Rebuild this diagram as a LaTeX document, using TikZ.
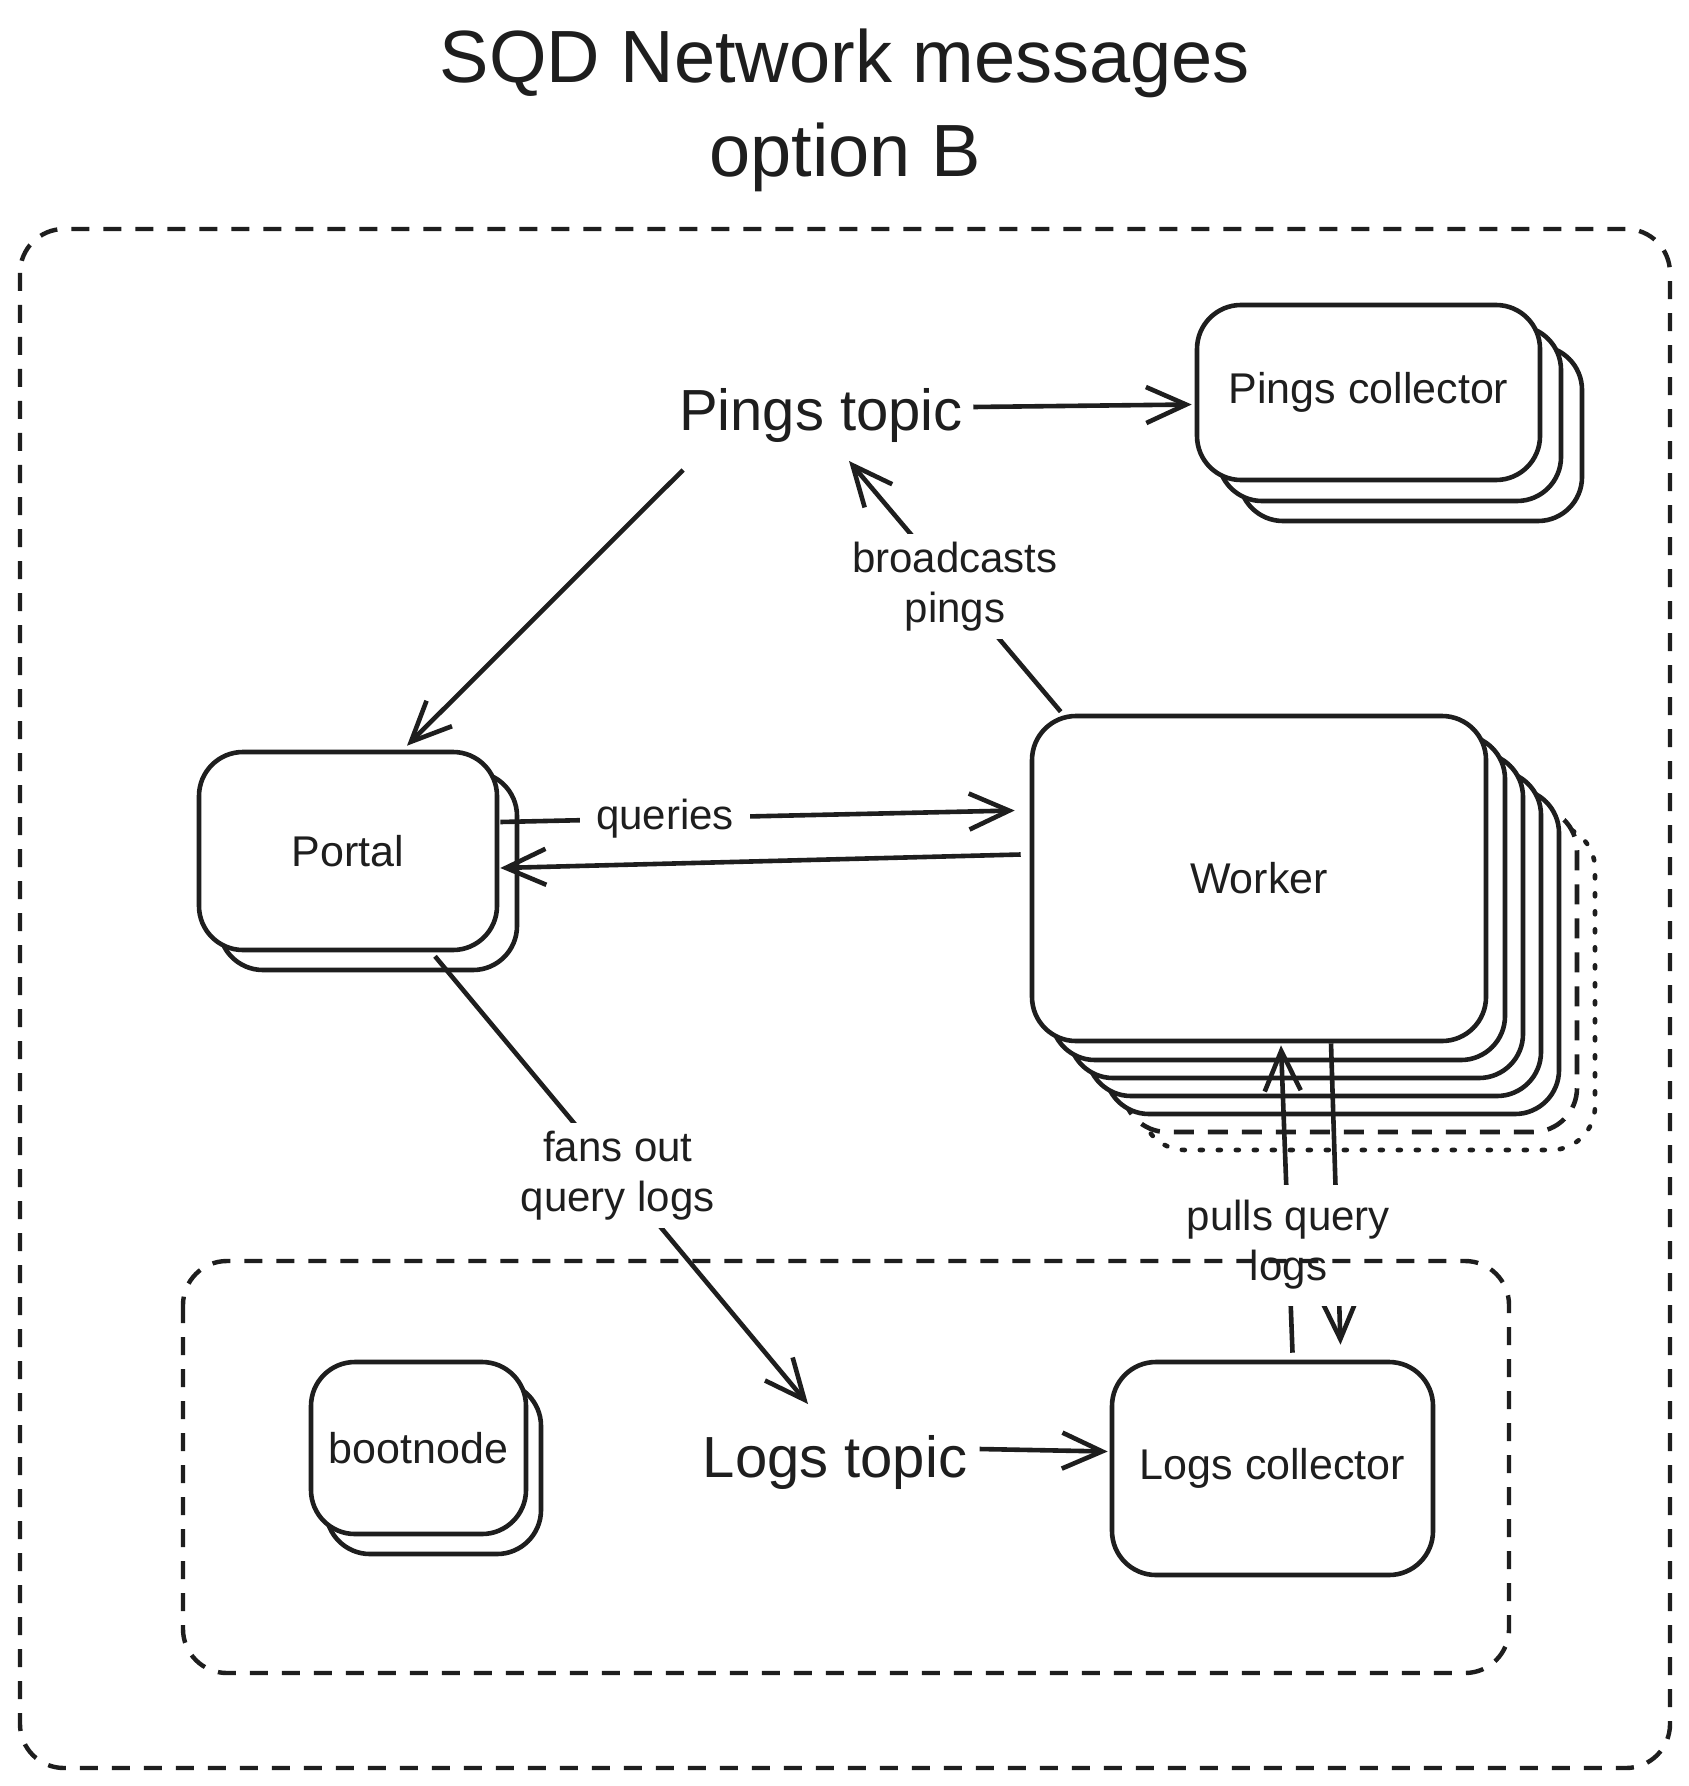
\documentclass[tikz,border=0pt]{standalone}
\usepackage{fontspec}
\setmainfont{Liberation Sans}
\usetikzlibrary{arrows.meta,calc}
\definecolor{ink}{HTML}{1E1E1E}
\begin{document}
\begin{tikzpicture}[x=0.5pt,y=-0.5pt,
  box/.style={draw=ink, fill=white, rounded corners=22pt, line width=2.3pt, inner sep=0pt, text=ink, font=\fontsize{21.5}{25}\selectfont},
  frame/.style={draw=ink, rounded corners=22pt, line width=2.2pt, dash pattern=on 9pt off 7pt},
  dashedge/.style={dash pattern=on 10pt off 7pt},
  dotedge/.style={dash pattern=on 1.5pt off 7.5pt, line cap=round},
  arr/.style={draw=ink, line width=2.3pt, -{Straight Barb[length=20pt,width=18pt]}},
  lab/.style={fill=white, text=ink, font=\fontsize{21}{25}\selectfont, align=center, inner xsep=6pt, inner ysep=4pt},
  topic/.style={text=ink, font=\fontsize{29}{34}\selectfont, inner sep=0pt, anchor=base},
  ttl/.style={text=ink, font=\fontsize{37}{44}\selectfont, inner sep=0pt, anchor=base},
]
\useasboundingbox (0,0) rectangle (1689,1786);
\fill[white] (0,0) rectangle (1689,1786);

% title
\node[ttl] (title1) at (845,83) {SQD Network messages};
\node[ttl] (title2) at (845,177) {option B};

% outer frame
\draw[frame] (20,229) rectangle (1670,1768);

% Pings collector stack
\node[box, minimum width=171.5pt, minimum height=87.5pt] (pcol3) at (1410.5,433.5) {};
\node[box, minimum width=171.5pt, minimum height=87.5pt] (pcol2) at (1389.5,413.5) {};
\node[box, minimum width=171.5pt, minimum height=87.5pt] (pcol) at (1368.5,392.5) {Pings collector};

% Portal stack
\node[box, minimum width=149pt, minimum height=99pt] (portal2) at (368,871) {};
\node[box, minimum width=149pt, minimum height=99pt] (portal) at (348,851) {Portal};

% Worker stack
\node[box, dotedge, minimum width=227pt, minimum height=162.5pt] (wk6) at (1368,987.5) {};
\node[box, dashedge, minimum width=227pt, minimum height=162.5pt] (wk5) at (1350,969.5) {};
\node[box, minimum width=227pt, minimum height=162.5pt] (wk4) at (1332,951.5) {};
\node[box, minimum width=227pt, minimum height=162.5pt] (wk3) at (1314,933.5) {};
\node[box, minimum width=227pt, minimum height=162.5pt] (wk2) at (1296,915.5) {};
\node[box, minimum width=227pt, minimum height=162.5pt] (wk1) at (1278,897.5) {};
\node[box, minimum width=227pt, minimum height=162.5pt] (worker) at (1259,878.5) {Worker};

% bootnode stack
\node[box, minimum width=107.5pt, minimum height=86pt] (boot2) at (433.5,1468) {};
\node[box, minimum width=107.5pt, minimum height=86pt] (boot) at (418.5,1448) {bootnode};

% Logs collector
\node[box, minimum width=160.5pt, minimum height=106.5pt] (lcol) at (1272.5,1468.5) {Logs collector};

% topics
\node[topic] (ptopic) at (821,430) {Pings topic};
\node[topic] (ltopic) at (835,1477) {Logs topic};

% connectors
\draw[arr] ([shift={(10,-8)}]ptopic.east) -- ([shift={(-3,12)}]pcol.west);
\draw[arr] ([shift={(-138,55)}]ptopic.center) -- ([shift={(59,-4)}]portal.north);
\draw[arr] ([shift={(31,-2)}]worker.north west) -- node[lab]{broadcasts\\pings} ([shift={(28,46)}]ptopic.center);
\draw[arr] ([shift={(1,-29)}]portal.east) -- node[lab,pos=0.32,inner xsep=8pt]{queries} ([shift={(-15,-68)}]worker.west);
\draw[arr] ([shift={(-9,-24)}]worker.west) -- ([shift={(1,17)}]portal.east);
\draw[arr] ([shift={(87,4)}]portal.south) -- node[lab,pos=0.49]{fans out\\query logs} ([shift={(-27,-58)}]ltopic.center);
\draw[arr] ([shift={(12,-13)}]ltopic.east) -- ([shift={(-2,-17)}]lcol.west);
\draw[arr] ([shift={(72,0)}]worker.south) -- ([shift={(68,-15)}]lcol.north);
\draw[arr] ([shift={(20,-7)}]lcol.north) -- node[lab,pos=0.35,inner ysep=8pt]{pulls query\\logs} ([shift={(22,2)}]worker.south);

% inner frame
\draw[frame] (183,1261) rectangle (1509,1673);
\end{tikzpicture}
\end{document}
